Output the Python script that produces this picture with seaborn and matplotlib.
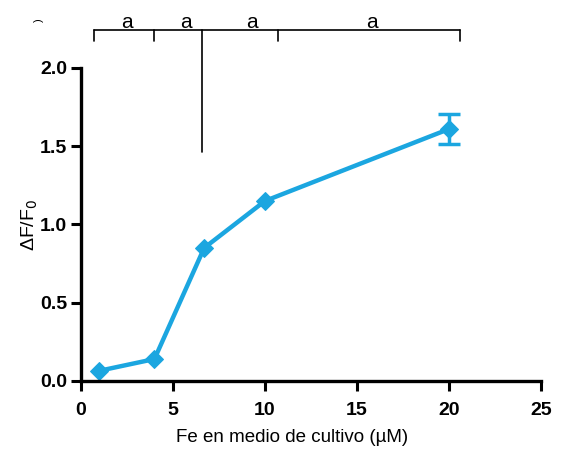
import numpy as np
import pandas as pd
import matplotlib.pyplot as plt
import seaborn as sns

fe_conc = [1, 4, 6.7, 10, 20]
delta_f = [0.065, 0.14, 0.85, 1.15, 1.61]
delta_err = [0, 0, 0, 0, 0.095]

group_labels = ['a', 'a', 'a', 'a']
label_x = [2.5, 5.7, 9.3, 15.8]
bracket_ticks = [0.7, 4.0, 10.7, 20.6]
divider_x = 6.6

sns.set_theme(style='ticks')
plt.rcParams['font.family'] = ['Liberation Sans', 'DejaVu Sans']
plt.rcParams['text.color'] = 'black'
plt.rcParams['axes.labelcolor'] = 'black'
plt.rcParams['xtick.color'] = 'black'
plt.rcParams['ytick.color'] = 'black'
blue = '#1ba6e0'

fig = plt.figure(figsize=(5.69, 4.53), dpi=100)
ax = fig.add_axes([0.142, 0.159, 0.809, 0.691])

df = pd.DataFrame({'fe': fe_conc, 'df': delta_f, 'err': delta_err})
sns.lineplot(data=df, x='fe', y='df', ax=ax, color=blue, lw=3.2, marker='D',
             markersize=9, markeredgecolor=blue, errorbar=None)
with_err = df[df['err'] > 0]
ax.errorbar(with_err['fe'], with_err['df'], yerr=with_err['err'], fmt='none',
            ecolor=blue, elinewidth=2.5, capsize=8, capthick=2.5)

ax.set_xlim(0, 25)
ax.set_ylim(0, 2.0)
ax.set_xticks([0, 5, 10, 15, 20, 25])
ax.set_yticks([0.0, 0.5, 1.0, 1.5, 2.0])
ax.set_yticklabels(['0.0', '0.5', '1.0', '1.5', '2.0'])
for s in ['top', 'right']:
    ax.spines[s].set_visible(False)
for s in ['left', 'bottom']:
    ax.spines[s].set_linewidth(2.4)
    ax.spines[s].set_color('black')
ax.tick_params(width=2.2, length=7, color='black', labelcolor='black', labelsize=14)
ax.tick_params(axis='x', pad=8)
ax.tick_params(axis='y', pad=3)
for lab in ax.get_xticklabels() + ax.get_yticklabels():
    lab.set_fontweight('bold')

ax.set_xlabel('Fe en medio de cultivo (µM)', fontsize=13.5, color='black')
ax.xaxis.set_label_coords(0.459, -0.155)
ax.set_ylabel('ΔF/F$_0$', fontsize=14, color='black')
ax.yaxis.set_label_coords(-0.088, 0.5)

# significance bracket on top
y_line = 2.24
ax.plot([bracket_ticks[0], bracket_ticks[-1]], [y_line, y_line], color='black',
        lw=1.2, clip_on=False)
for bx in bracket_ticks:
    ax.plot([bx, bx], [y_line, y_line - 0.07], color='black', lw=1.2, clip_on=False)
ax.plot([divider_x, divider_x], [y_line, 1.46], color='black', lw=1.2, clip_on=False)
for lx, lt in zip(label_x, group_labels):
    ax.text(lx, y_line - 0.01, lt, ha='center', va='bottom', fontsize=15,
            color='black', clip_on=False)

fig.text(0.068, 0.955, ')', fontsize=8, rotation=90, ha='center', va='center')

fig.savefig('out.png', dpi=100)
